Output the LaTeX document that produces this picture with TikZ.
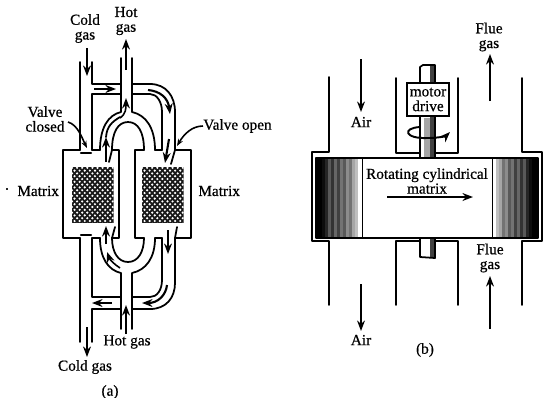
\documentclass[tikz,border=0pt]{standalone}
\usepackage{fontspec}
\newfontfamily\lab[FakeBold=0.6]{Liberation Serif}
\usetikzlibrary{arrows.meta,calc}
\tikzset{
  wall/.style={line width=1pt,line cap=round,line join=round},
  flow/.style={line width=1.2pt,-{Stealth[length=6pt,width=4.5pt]}},
  thin flow/.style={line width=0.9pt,-{Stealth[length=6pt,width=4.5pt]}},
  lbl/.style={font=\lab\fontsize{8.7pt}{8.4pt}\selectfont,inner sep=0pt,align=center,text=black},
  leader/.style={line width=0.9pt,-{Stealth[length=4pt,width=3pt]}},
}
\begin{document}
\begin{tikzpicture}[x=0.02cm,y=-0.02cm]
\useasboundingbox (0,0) rectangle (543,397);
\fill[white] (0,0) rectangle (543,397);
% ---------- panel (a) matrices
\foreach \xa in {72,142}{
  \begin{scope}
  \clip (\xa,167) rectangle ++(41.5,55.5);
  \fill[black!90] (\xa,167) rectangle ++(41.5,55.5);
  \foreach \i in {0,...,8}{
    \foreach \j in {0,...,20}{
      \fill[white] ({\xa+\i*5.1+mod(\j,2)*2.55},{167+\j*2.8+0.8}) circle (1.2);
    }
  }
  \end{scope}
}
% matrix boxes
\draw[wall] (80,150) -- (63,150) -- (63,238) -- (80,238);
\draw[wall] (92,238) -- (100,238);
\draw[wall] (92,150) -- (100,150);
\draw[wall] (112,150) -- (119,150) -- (119,238) -- (112,238);
\draw[wall] (144,150) -- (135,150) -- (135,238) -- (144,238);
\draw[wall] (155,150) -- (162,150);
\draw[wall] (155,238) -- (162,238);
\draw[wall] (175,150) -- (191,150) -- (191,238) -- (175,238);
% cold pipe top
\draw[wall] (80,62) -- (80,150);
\draw[wall] (92,62) -- (92,84) -- (121,84);
\draw[wall] (92,150) -- (92,94) -- (121,94);
\draw[wall,line width=1.3pt] (81,153) -- (91,153);
% hot pipe top
\draw[wall] (121,58) -- (121,112) .. controls (108,115) and (100,128) .. (100,150);
\draw[wall] (132,58) -- (132,112) .. controls (146,115) and (155,128) .. (155,150);
\draw[wall] (112,150) .. controls (112,132) and (118,122) .. (128,122) .. controls (138,122) and (144,132) .. (144,150);
% right duct top
\draw[wall] (132,84) -- (150,84) .. controls (166,84) and (175,96) .. (175,112) -- (175,150);
\draw[wall] (132,94) -- (150,94) .. controls (157,94) and (162,102) .. (162,112) -- (162,150);
% flaps top
\draw[wall] (175,150) -- (171,164);
\draw[wall] (112,150) -- (109,162);
% cold pipe bottom
\draw[wall] (80,238) -- (80,342);
\draw[wall] (92,342) -- (92,309) -- (121,309);
\draw[wall] (92,238) -- (92,297) -- (121,297);
\draw[wall,line width=1.3pt] (81,235) -- (91,235);
% hot pipe bottom
\draw[wall] (121,329) -- (121,273) .. controls (108,270) and (100,258) .. (100,238);
\draw[wall] (132,329) -- (132,273) .. controls (146,270) and (155,258) .. (155,238);
\draw[wall] (112,238) .. controls (112,252) and (118,262) .. (128,262) .. controls (138,262) and (144,252) .. (144,238);
% right duct bottom
\draw[wall] (132,309) -- (150,309) .. controls (166,309) and (175,298) .. (175,283) -- (175,238);
\draw[wall] (132,297) -- (150,297) .. controls (157,297) and (162,290) .. (162,280) -- (162,238);
% flaps bottom
\draw[wall] (175,238) -- (177,227);
\draw[wall] (112,238) -- (115,227);
% arrows top
\coordinate (ca1) at (87,48); \coordinate (ca2) at (87,76);
\draw[flow] (ca1) -- (ca2);
\coordinate (ha1) at (126,70); \coordinate (ha2) at (126,39);
\draw[flow] (ha1) -- (ha2);
\coordinate (ca3) at (94,89); \coordinate (ca4) at (116,89);
\draw[flow] (ca3) -- (ca4);
\draw[thin flow] (120,118) .. controls (126,114) and (126,108) .. (126,98);
\draw[flow] (148,90) .. controls (160,91) and (168,98) .. (170,114);
\draw[flow] (169,139) -- (165,163);
\draw[flow] (106,162) -- (106,137);
\draw[wall] (106,137) .. controls (107,126) and (112,122) .. (120,117);
% arrows bottom
\coordinate (ca5) at (87,327); \coordinate (ca6) at (87,357);
\draw[flow] (ca5) -- (ca6);
\coordinate (ha3) at (126,334); \coordinate (ha4) at (126,305);
\draw[flow] (ha3) -- (ha4);
\coordinate (ca7) at (112,303); \coordinate (ca8) at (92,303);
\draw[flow] (ca7) -- (ca8);
\draw[flow] (167,285) .. controls (166,295) and (158,303) .. (142,303);
\draw[flow] (168,230) -- (168,254);
\draw[flow] (106,244) -- (106,226);
\draw[thin flow] (120,268) .. controls (114,264) and (110,260) .. (107,252);
% labels a
\node[lbl] (coldtop) at (85,28.5) {Cold\\gas};
\node[lbl] (hottop) at (126,21) {Hot\\gas};
\node[lbl] (valvec) at (45,119) {Valve\\closed};
\node[lbl,anchor=west] (valveo) at (203,126) {Valve open};
\node[lbl] (dot) at (7,189) {.};
\node[lbl,anchor=west] (matl) at (17,191) {Matrix};
\node[lbl,anchor=west] (matr) at (198,191) {Matrix};
\node[lbl] (hotbot) at (127,342) {Hot gas};
\node[lbl] (coldbot) at (85,367) {Cold gas};
\node[lbl] (capa) at (110,392) {(a)};
\coordinate (vcs) at (68,122); \coordinate (vct) at (87,148); \coordinate (vot) at (177,146);
\draw[leader] (vcs) .. controls (78,125) and (82,138) .. (vct);
\draw[leader] (valveo.west) .. controls (192,126) and (184,134) .. (vot);
% ---------- panel (b)
\draw[wall] (329,77) -- (329,152) -- (312,152) -- (312,241) -- (329,241) -- (329,305);
\draw[wall] (396,78) -- (396,153) -- (419,153);
\draw[wall] (436,153) -- (458,153) -- (458,78);
\draw[wall] (522,78) -- (522,152) -- (542,152) -- (542,241) -- (522,241) -- (522,305);
\draw[wall] (396,305) -- (396,241) -- (419,241);
\draw[wall] (436,241) -- (458,241) -- (458,305);
% shaft
\fill[black!75] (430,65) rectangle (435,158);
\fill[black!35] (424,118) rectangle (430,158);
\draw[wall] (420,158) -- (420,67) -- (423,65) -- (435,65) -- (435,158);
\fill[black!75] (430,238) rectangle (435,258);
\draw[wall] (420,238) -- (420,257) -- (435,258) -- (435,238);
% rotor bands
\foreach \i/\g in {0/100,1/100,2/95,3/85,4/65,5/80,6/60,7/75,8/55,9/65,10/45,11/55,12/35,13/25}{
  \fill[black!\g] ({316+\i*3},159) rectangle ++(3.1,79);
  \fill[black!\g] ({538-\i*3},159) rectangle ++(-3.1,79);
}
\draw[wall] (316,158) rectangle (538,238);
\draw[line width=0.5pt] (362,159) -- (362,238);
\draw[line width=0.5pt] (492,159) -- (492,238);
% motor
\node[draw=black,line width=1pt,fill=white,lbl,text width=24pt,minimum height=18.7pt,inner sep=0pt] (motor) at (428,99.5) {motor\\drive};
% rotation arrow
\draw[line width=1.1pt,-{Stealth[length=6pt,width=4.5pt]}] (420,127) .. controls (402,128) and (404,139) .. (428,138) .. controls (438,138) and (446,136) .. (450,132);
% b arrows
\coordinate (a1) at (361,59); \coordinate (a2) at (361,112);
\draw[thin flow] (a1) -- (a2);
\coordinate (a3) at (361,284); \coordinate (a4) at (361,331);
\draw[thin flow] (a3) -- (a4);
\coordinate (f1) at (490,101); \coordinate (f2) at (490,54);
\draw[flow] (f1) -- (f2);
\coordinate (f3) at (490,329); \coordinate (f4) at (490,276);
\draw[flow] (f3) -- (f4);
\coordinate (m1) at (387,197); \coordinate (m2) at (473,197);
\draw[flow] (m1) -- (m2);
\node[lbl] (air1) at (361,122) {Air};
\node[lbl] (air2) at (361,340) {Air};
\node[lbl] (flue1) at (489,37) {Flue\\gas};
\node[lbl] (flue2) at (490,258) {Flue\\gas};
\node[lbl] (rot) at (427,181) {Rotating cylindrical\\matrix};
\node[lbl] (capb) at (425,350) {(b)};
\end{tikzpicture}
\end{document}
